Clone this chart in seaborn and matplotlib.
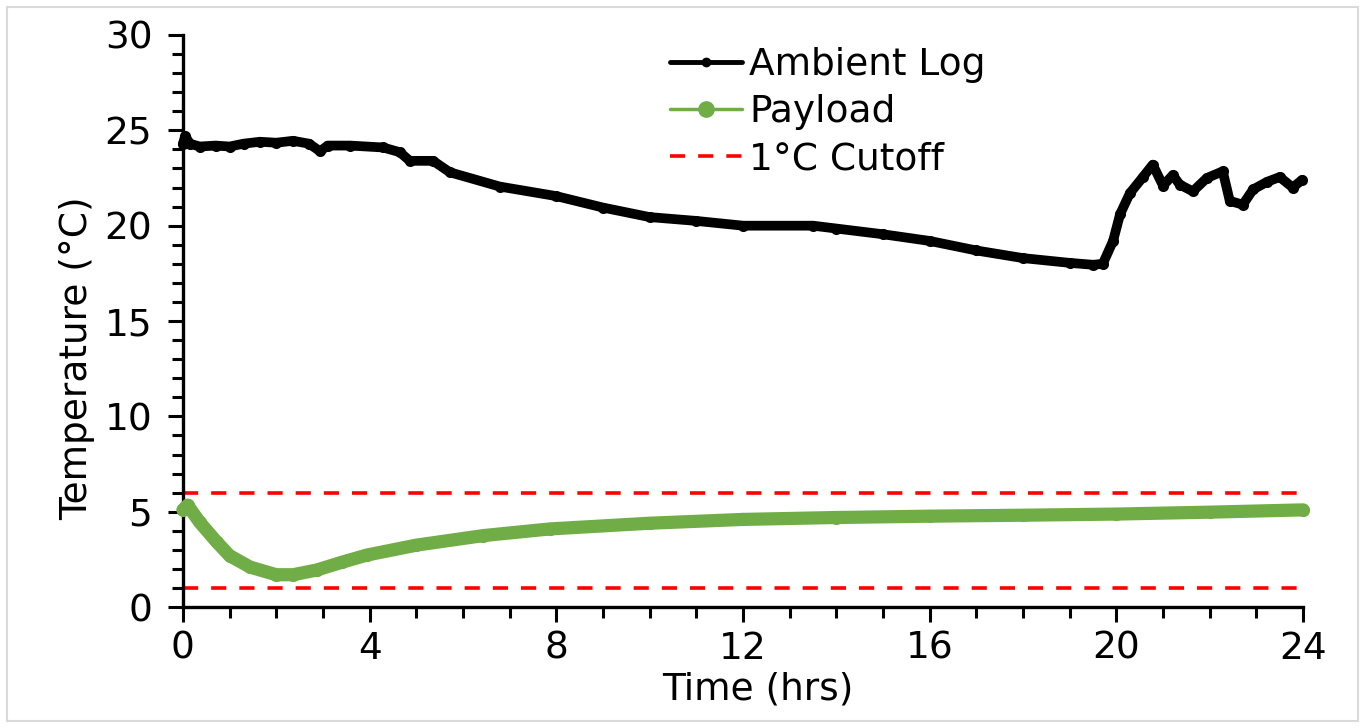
import numpy as np
import pandas as pd
import matplotlib
matplotlib.use("Agg")
import matplotlib.pyplot as plt
from matplotlib.lines import Line2D
from matplotlib.patches import Rectangle
from matplotlib.ticker import MultipleLocator
import seaborn as sns

sns.set_style("ticks")
plt.rcParams['font.family'] = ['DejaVu Sans']
plt.rcParams.update({"text.color": "black", "axes.labelcolor": "black",
                     "xtick.color": "black", "ytick.color": "black"})

# Ambient logger readings (hrs, degC)
ambient_t = [0, 0.05, 0.15, 0.36, 0.7, 1.0, 1.3, 1.65, 2.0, 2.36, 2.7, 2.94, 3.1,
             3.58, 4.29, 4.65, 4.86, 5.36, 5.72, 6.79, 8, 9, 10, 11, 12, 13.5, 14,
             15, 16, 17, 18, 19, 19.5, 19.71, 19.93, 20.08, 20.29, 20.57, 20.78,
             21.0, 21.21, 21.36, 21.64, 21.94, 22.28, 22.43, 22.71, 22.93, 23.23,
             23.5, 23.78, 23.98]
ambient_temp = [24.3, 24.7, 24.3, 24.15, 24.2, 24.15, 24.3, 24.4, 24.35, 24.45,
                24.3, 23.9, 24.2, 24.2, 24.1, 23.85, 23.4, 23.4, 22.8, 22.05,
                21.55, 20.95, 20.45, 20.25, 20.0, 20.0, 19.85, 19.55, 19.2, 18.7,
                18.3, 18.05, 17.95, 18.0, 19.2, 20.6, 21.7, 22.55, 23.2, 22.1,
                22.65, 22.15, 21.8, 22.5, 22.85, 21.3, 21.1, 21.9, 22.3, 22.55,
                22.0, 22.4]

# Payload probe readings
payload_t = [0, 0.1, 0.36, 0.72, 1.0, 1.44, 2.0, 2.36, 2.87, 3.4, 3.94, 5.0,
             6.43, 7.86, 10, 12, 14, 16, 18, 20, 22, 24]
payload_temp = [5.1, 5.35, 4.45, 3.43, 2.7, 2.1, 1.7, 1.7, 1.95, 2.35, 2.73,
                3.25, 3.75, 4.1, 4.4, 4.6, 4.7, 4.77, 4.82, 4.88, 4.98, 5.1]

cutoff_levels = [1, 6]

ambient = pd.DataFrame({"t": ambient_t, "temp": ambient_temp})
payload = pd.DataFrame({"t": payload_t, "temp": payload_temp})

fig = plt.figure(figsize=(13.65, 7.28), dpi=100)
ax = fig.add_axes([0.134, 0.166, 0.8206, 0.786])

sns.lineplot(data=ambient, x="t", y="temp", ax=ax, color="black", lw=7,
             marker="o", markersize=8, markeredgewidth=0, sort=False,
             estimator=None, clip_on=False, zorder=3)
sns.lineplot(data=payload, x="t", y="temp", ax=ax, color="#70ad47", lw=9.5,
             marker="o", markersize=9.5, markeredgewidth=0, sort=False,
             estimator=None, clip_on=False, zorder=3)
for lvl in cutoff_levels:
    ax.axhline(lvl, color="#ff0000", lw=2.6, ls=(0, (4.2, 3.6)), zorder=2)

ax.set_xlim(0, 24)
ax.set_ylim(0, 30)
ax.xaxis.set_major_locator(MultipleLocator(4))
ax.xaxis.set_minor_locator(MultipleLocator(1))
ax.yaxis.set_major_locator(MultipleLocator(5))
ax.yaxis.set_minor_locator(MultipleLocator(1))
ax.tick_params(which="major", length=11, width=2.2, labelsize=27, color="black")
ax.tick_params(axis="y", which="major", pad=11)
ax.tick_params(axis="x", which="major", pad=6)
ax.tick_params(which="minor", length=8, width=2.2, color="black")
sns.despine(ax=ax)
for s in ["left", "bottom"]:
    ax.spines[s].set_linewidth(2.4)
    ax.spines[s].set_color("black")

ax.set_xlabel("Time (hrs)", fontsize=27)
ax.set_ylabel("Temperature (°C)", fontsize=27, va="center")
ax.xaxis.set_label_coords(0.513, -0.113)
ax.yaxis.set_label_coords(-0.094, 0.435)

handles = [
    Line2D([], [], color="black", lw=3.5, marker="o", markersize=6),
    Line2D([], [], color="#70ad47", lw=2.5, marker="o", markersize=11),
    Line2D([], [], color="#ff0000", lw=2.6, ls=(0, (4.2, 3.6))),
]
ax.legend(handles, ["Ambient Log", "Payload", "1°C Cutoff"], loc="upper left",
          bbox_to_anchor=(0.405, 1.038), frameon=False, fontsize=27,
          handlelength=1.9, handletextpad=0.2, labelspacing=0.3)

fig.patches.append(Rectangle((0.005, 0.01), 0.99, 0.98, transform=fig.transFigure,
                             fill=False, edgecolor="#d9d9d9", lw=1.5))

fig.savefig("out.png", dpi=100, facecolor="white")
